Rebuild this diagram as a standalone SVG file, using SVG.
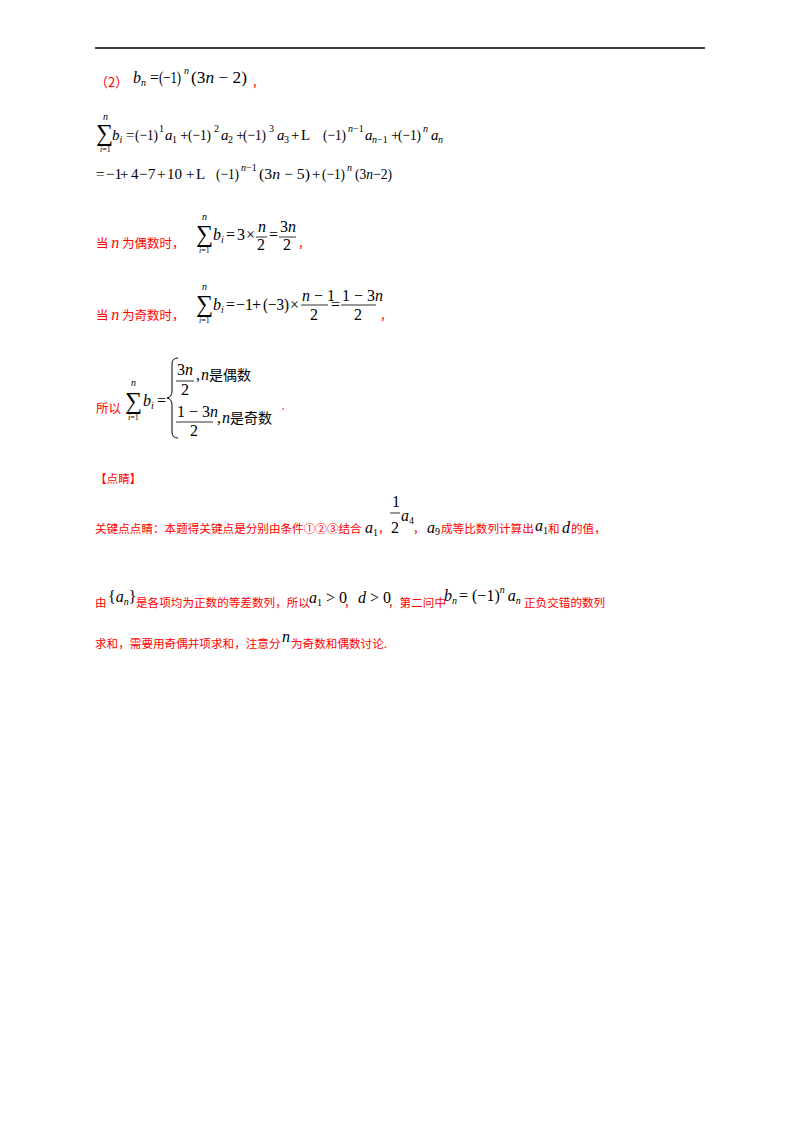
<svg xmlns="http://www.w3.org/2000/svg" width="800" height="1132" viewBox="0 0 800 1132">
<style>
.m{font-family:"Liberation Serif",serif;font-size:16px;fill:#000}
.t{font-size:15px}
.i{font-style:italic}
.s{font-size:10px}
.x{font-size:8px}
.g{font-family:"Liberation Serif",serif;font-size:24px;fill:#000}
.r{font-family:"Noto Sans CJK SC",sans-serif;font-size:11.6px;fill:#f00}
.f{stroke:#000;stroke-width:0.8}
</style>
<rect width="800" height="1132" fill="#fff"/>
<line x1="95" y1="48" x2="705" y2="48" stroke="#000" stroke-width="1.5"/>
<!-- line 1 -->
<text x="95" y="87" class="r" style="font-size:13px">（2）</text>
<g class="m">
<text x="133" y="83"><tspan class="i">b</tspan><tspan class="s i" dy="3">n</tspan></text>
<text x="150" y="83">=</text>
<text x="159" y="83" textLength="22" lengthAdjust="spacingAndGlyphs">(−1)</text>
<text x="184" y="74" class="s i">n</text>
<text x="191" y="83" textLength="56" lengthAdjust="spacingAndGlyphs">(3<tspan class="i">n</tspan> − 2)</text>
</g>
<text x="252" y="87" class="r">，</text>
<!-- line 2 -->
<text x="96" y="141" class="g">∑</text>
<text x="103" y="120" class="m s i">n</text>
<text x="100" y="152" class="m x"><tspan class="i">i</tspan>=1</text>
<g class="m t">
<text x="112" y="140"><tspan class="i">b</tspan><tspan class="s i" dy="3">i</tspan></text>
<text x="126" y="140">=</text>
<text x="135" y="140" textLength="23" lengthAdjust="spacingAndGlyphs">(−1)</text><text x="159" y="132" class="s">1</text>
<text x="165" y="140" class="i">a</text><text x="172" y="143" class="s">1</text>
<text x="180" y="140">+</text>
<text x="188" y="140" textLength="23" lengthAdjust="spacingAndGlyphs">(−1)</text><text x="214" y="132" class="s">2</text>
<text x="221" y="140" class="i">a</text><text x="228" y="143" class="s">2</text>
<text x="236" y="140">+</text>
<text x="243" y="140" textLength="23" lengthAdjust="spacingAndGlyphs">(−1)</text><text x="269" y="132" class="s">3</text>
<text x="277" y="140" class="i">a</text><text x="284" y="143" class="s">3</text>
<text x="291" y="140">+</text>
<text x="301" y="140">L</text>
<text x="323" y="140" textLength="23" lengthAdjust="spacingAndGlyphs">(−1)</text><text x="348" y="132" class="s"><tspan class="i">n</tspan>−1</text>
<text x="365" y="140" class="i">a</text><text x="372" y="143" class="s"><tspan class="i">n</tspan>−1</text>
<text x="391" y="140">+</text>
<text x="398" y="140" textLength="23" lengthAdjust="spacingAndGlyphs">(−1)</text><text x="423" y="132" class="s i">n</text>
<text x="431" y="140" class="i">a</text><text x="438" y="143" class="s i">n</text>
</g>
<!-- line 3 -->
<g class="m t">
<text x="96" y="179">=</text>
<text x="106" y="179">−1</text>
<text x="120" y="179">+</text>
<text x="131" y="179">4</text>
<text x="139" y="179">−</text>
<text x="148" y="179">7</text>
<text x="157" y="179">+</text>
<text x="167" y="179">10</text>
<text x="186" y="179">+</text>
<text x="196" y="179">L</text>
<text x="216" y="179" textLength="23" lengthAdjust="spacingAndGlyphs">(−1)</text><text x="241" y="171" class="s"><tspan class="i">n</tspan>−1</text>
<text x="259" y="179" textLength="51" lengthAdjust="spacingAndGlyphs">(3<tspan class="i">n</tspan> − 5)</text>
<text x="312" y="179">+</text>
<text x="322" y="179" textLength="23" lengthAdjust="spacingAndGlyphs">(−1)</text><text x="347" y="171" class="s i">n</text>
<text x="355" y="179" textLength="37" lengthAdjust="spacingAndGlyphs">(3<tspan class="i">n</tspan>−2)</text>
</g>
<!-- even -->
<text x="96" y="248" class="r" style="font-size:12.5px">当 <tspan style="font-family:'Liberation Serif',serif;font-style:italic;font-size:16px">n</tspan> 为偶数时，</text>
<text x="196" y="242" class="g">∑</text>
<text x="202" y="220" class="m s i">n</text>
<text x="199" y="253" class="m x"><tspan class="i">i</tspan>=1</text>
<text x="213" y="240" class="m"><tspan class="i">b</tspan><tspan class="s i" dy="3">i</tspan></text>
<text x="226" y="240" class="m">=</text>
<text x="237" y="240" class="m">3</text>
<text x="246" y="240" class="m">×</text>
<text x="258" y="232" class="m i">n</text><line x1="256" y1="237" x2="267" y2="237" class="f"/><text x="257" y="250" class="m">2</text>
<text x="269" y="240" class="m">=</text>
<text x="280" y="232" class="m">3<tspan class="i">n</tspan></text><line x1="279" y1="237" x2="296" y2="237" class="f"/><text x="283" y="250" class="m">2</text>
<text x="298" y="248" class="r">，</text>
<!-- odd -->
<text x="96" y="320" class="r" style="font-size:12.5px">当 <tspan style="font-family:'Liberation Serif',serif;font-style:italic;font-size:16px">n</tspan> 为奇数时，</text>
<text x="196" y="312" class="g">∑</text>
<text x="202" y="290" class="m s i">n</text>
<text x="199" y="323" class="m x"><tspan class="i">i</tspan>=1</text>
<text x="213" y="310" class="m"><tspan class="i">b</tspan><tspan class="s i" dy="3">i</tspan></text>
<g class="m">
<text x="226" y="310">=</text>
<text x="236" y="310">−1</text>
<text x="252" y="310">+</text>
<text x="263" y="310" textLength="26" lengthAdjust="spacingAndGlyphs">(−3)</text>
<text x="290" y="310">×</text>
</g>
<text x="302" y="301" class="m"><tspan class="i">n</tspan> − 1</text><line x1="301" y1="305" x2="328" y2="305" class="f"/><text x="310" y="320" class="m">2</text>
<text x="331" y="310" class="m">=</text>
<text x="342" y="301" class="m">1 − 3<tspan class="i">n</tspan></text><line x1="341" y1="305" x2="376" y2="305" class="f"/><text x="354" y="320" class="m">2</text>
<text x="380" y="320" class="r">，</text>
<!-- final -->
<text x="96" y="413" class="r" style="font-size:12.5px">所以</text>
<text x="125" y="409" class="g">∑</text>
<text x="131" y="386" class="m s i">n</text>
<text x="128" y="420" class="m x"><tspan class="i">i</tspan>=1</text>
<text x="143" y="406" class="m"><tspan class="i">b</tspan><tspan class="s i" dy="3">i</tspan></text>
<text x="157" y="406" class="m">=</text>
<path d="M178 358 Q172 358 172 364 L172 391 Q172 397 167 398 Q172 399 172 405 L172 432 Q172 438 178 438" fill="none" stroke="#000" stroke-width="1"/>
<text x="177" y="375" class="m">3<tspan class="i">n</tspan></text><line x1="176" y1="381" x2="194" y2="381" class="f"/><text x="181" y="395" class="m">2</text>
<text x="196" y="380" class="m">,<tspan class="i" dx="1">n</tspan><tspan style="font-family:'Noto Sans CJK SC',sans-serif;font-size:14px">是偶数</tspan></text>
<text x="177" y="417" class="m">1 − 3<tspan class="i">n</tspan></text><line x1="176" y1="422" x2="213" y2="422" class="f"/><text x="190" y="436" class="m">2</text>
<text x="217" y="423" class="m">,<tspan class="i" dx="1">n</tspan><tspan style="font-family:'Noto Sans CJK SC',sans-serif;font-size:14px">是奇数</tspan></text>
<circle cx="283" cy="409" r="0.8" fill="#f00"/>
<!-- 点睛 -->
<text x="95" y="483" class="r">【点睛】</text>
<text x="95" y="533" class="r">关键点点睛：本题得关键点是分别由条件①②③结合</text>
<text x="365" y="533" class="m i">a<tspan class="s" style="font-style:normal" dy="3">1</tspan></text>
<text x="378" y="533" class="r">，</text>
<text x="392" y="507" class="m">1</text><line x1="390" y1="513" x2="400" y2="513" class="f"/><text x="391" y="533" class="m">2</text>
<text x="401" y="521" class="m i">a<tspan class="s" style="font-style:normal" dy="3">4</tspan></text>
<text x="413" y="533" class="r">，</text>
<text x="427" y="533" class="m i">a<tspan class="s" style="font-style:normal" dy="2">9</tspan></text>
<text x="441" y="533" class="r">成等比数列计算出</text>
<text x="535" y="531" class="m i">a<tspan class="s" style="font-style:normal" dy="3">1</tspan></text>
<text x="548" y="533" class="r">和</text>
<text x="562" y="533" class="m i">d</text>
<text x="571" y="533" class="r">的值，</text>
<text x="95" y="607" class="r">由</text>
<text x="108" y="602" class="m">{<tspan class="i">a</tspan><tspan class="s i" dy="3">n</tspan><tspan dy="-3">}</tspan></text>
<text x="136" y="607" class="r">是各项均为正数的等差数列，所以</text>
<text x="309" y="603" class="m"><tspan class="i">a</tspan><tspan class="s" dy="3">1</tspan><tspan dy="-3"> &gt; 0</tspan></text>
<text x="344" y="607" class="r">，</text>
<text x="358" y="603" class="m"><tspan class="i">d</tspan> &gt; 0</text>
<text x="388" y="607" class="r">，第二问中</text>
<text x="444" y="601" class="m"><tspan class="i">b</tspan><tspan class="s i" dy="3">n</tspan><tspan dy="-3" dx="2">= (−1)</tspan><tspan class="s i" dy="-8">n</tspan><tspan class="i" dy="8" dx="3">a</tspan><tspan class="s i" dy="3">n</tspan></text>
<text x="524" y="607" class="r">正负交错的数列</text>
<text x="95" y="648" class="r">求和，需要用奇偶并项求和，注意分</text>
<text x="282" y="642" class="m i">n</text>
<text x="291" y="648" class="r">为奇数和偶数讨论.</text>
</svg>
